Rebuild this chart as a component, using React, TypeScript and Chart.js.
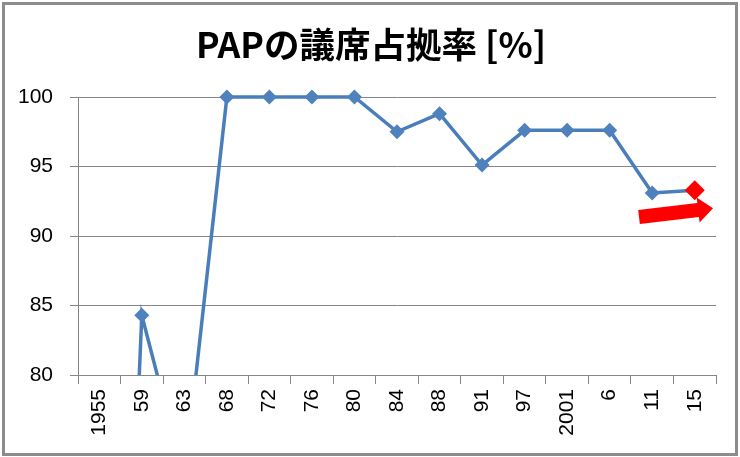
import React, { useEffect, useRef } from 'react';
import { Chart, registerables } from 'chart.js';

Chart.register(...registerables);

const titleText = 'PAPの議席占拠率 [%]';
const categories = ['1955', '59', '63', '68', '72', '76', '80', '84', '88', '91', '97', '2001', '6', '11', '15'];
const seatShare = [12, 84.3, 72.5, 100, 100, 100, 100, 97.5, 98.8, 95.1, 97.6, 97.6, 97.6, 93.1, 93.3];
const yTickValues = [80, 85, 90, 95, 100];
const highlightIndex = 14;
// annotation arrow, in data coordinates (category index, percent)
const arrowStart = { x: 12.69, y: 91.37 };
const arrowEnd = { x: 14.43, y: 92.0 };

const LINE_BLUE = '#4A7EBB';
const MARK_BLUE = '#4F81BD';
const RED = '#FF0000';
const GRAY = '#868686';
const FONT = "'Liberation Sans', Arial, sans-serif";

const frame = {
  id: 'frame',
  afterDraw(chart: any) {
    const ctx = chart.ctx;
    ctx.save();
    ctx.strokeStyle = '#8C8C8C';
    ctx.lineWidth = 3;
    ctx.strokeRect(3.5, 3.5, chart.width - 7, chart.height - 6);
    ctx.restore();
  },
};

const titlePlugin = {
  id: 'centeredTitle',
  afterDraw(chart: any) {
    const ctx = chart.ctx;
    ctx.save();
    ctx.fillStyle = '#000';
    ctx.font = "bold 35.5px 'Noto Sans CJK JP', sans-serif";
    ctx.textAlign = 'center';
    ctx.textBaseline = 'middle';
    ctx.fillText(titleText, chart.width / 2 + 1, 45);
    ctx.restore();
  },
};

const arrow = {
  id: 'arrow',
  afterDatasetsDraw(chart: any) {
    const xs = chart.scales.x;
    const ys = chart.scales.y;
    const x0 = xs.getPixelForValue(arrowStart.x);
    const y0 = ys.getPixelForValue(arrowStart.y);
    const x1 = xs.getPixelForValue(arrowEnd.x);
    const y1 = ys.getPixelForValue(arrowEnd.y);
    const ang = Math.atan2(y1 - y0, x1 - x0);
    const L = Math.hypot(x1 - x0, y1 - y0);
    const sh = 7;
    const hh = 12.5;
    const hl = 15;
    const ctx = chart.ctx;
    ctx.save();
    ctx.translate(x0, y0);
    ctx.rotate(ang);
    ctx.beginPath();
    ctx.moveTo(0, -sh);
    ctx.lineTo(L - hl, -sh);
    ctx.lineTo(L - hl, -hh);
    ctx.lineTo(L, 0);
    ctx.lineTo(L - hl, hh);
    ctx.lineTo(L - hl, sh);
    ctx.lineTo(0, sh);
    ctx.closePath();
    ctx.fillStyle = RED;
    ctx.fill();
    ctx.restore();
  },
};

export default function App() {
  const ref = useRef<HTMLCanvasElement | null>(null);

  useEffect(() => {
    if (!ref.current) return;
    const pointColors = seatShare.map((_, i) => (i === highlightIndex ? RED : MARK_BLUE));
    const pointRadii = seatShare.map((_, i) => (i === highlightIndex ? 10 : 7.5));
    const chart = new Chart(ref.current, {
      type: 'line',
      data: {
        labels: categories,
        datasets: [
          {
            data: seatShare,
            borderColor: LINE_BLUE,
            borderWidth: 3.5,
            tension: 0,
            pointStyle: 'rectRot',
            pointRadius: pointRadii,
            pointBackgroundColor: pointColors,
            pointBorderColor: pointColors,
            pointBorderWidth: 0,
            clip: { left: 20, top: 20, right: 20, bottom: 0 } as any,
          },
        ],
      },
      plugins: [arrow, titlePlugin, frame],
      options: {
        animation: false,
        responsive: false,
        devicePixelRatio: 1,
        layout: { padding: { top: 97, left: 0, right: 24, bottom: 10 } },
        plugins: {
          legend: { display: false },
          tooltip: { enabled: false },
          title: { display: false },
        },
        scales: {
          x: {
            type: 'category',
            offset: true,
            grid: {
              offset: true,
              drawOnChartArea: false,
              drawTicks: true,
              tickLength: 9,
              color: GRAY,
            },
            border: { display: true, color: GRAY },
            ticks: {
              minRotation: 90,
              maxRotation: 90,
              autoSkip: false,
              padding: 5,
              color: '#000',
              font: { family: FONT, size: 21 },
            },
            afterFit(scale: any) {
              scale.height = 72;
            },
          },
          y: {
            min: 80,
            max: 100,
            afterBuildTicks(scale: any) {
              scale.ticks = yTickValues.map((v) => ({ value: v }));
            },
            grid: { color: GRAY, drawTicks: true, tickLength: 8 },
            border: { display: true, color: GRAY },
            ticks: {
              padding: 17,
              color: '#000',
              font: { family: FONT, size: 21 },
            },
            afterFit(scale: any) {
              scale.width = 78;
            },
          },
        },
      },
    });
    return () => chart.destroy();
  }, []);

  return (
    <div style={{ position: 'absolute', left: 0, top: 0, width: 740, height: 457, background: '#fff' }}>
      <canvas ref={ref} width={740} height={457} />
    </div>
  );
}
